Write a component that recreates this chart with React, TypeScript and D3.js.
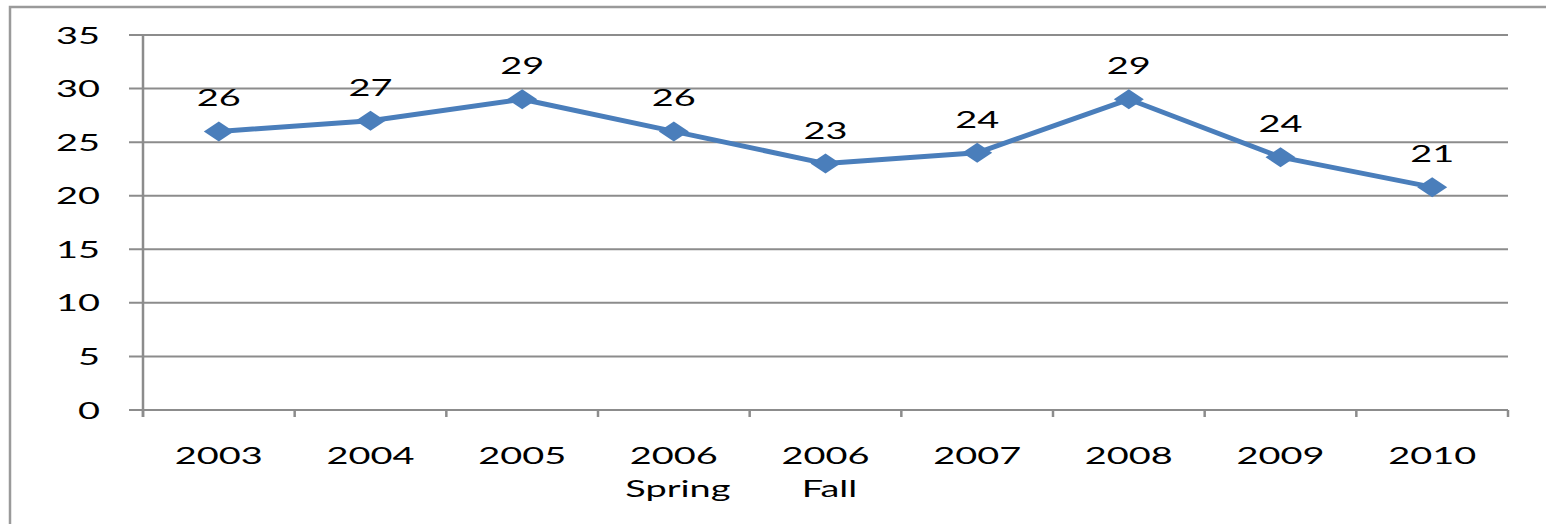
import * as d3 from 'd3'
import React, { useEffect, useRef } from 'react'

const categories = ['2003', '2004', '2005', '2006 Spring', '2006 Fall', '2007', '2008', '2009', '2010']
const values = [26, 27, 29, 26, 23, 24, 29, 23.6, 20.8]
const valueLabels = ['26', '27', '29', '26', '23', '24', '29', '24', '21']
const yTicks = [0, 5, 10, 15, 20, 25, 30, 35]

const App = () => {
  const svgRef = useRef<any>(null)

  useEffect(() => {
    if (!svgRef.current) return
    const svg = d3.select(svgRef.current)
    svg.selectAll('*').remove()

    const width = 1546
    const height = 524
    const left = 143
    const right = 1508
    const top = 35
    const bottom = 410
    const stretch = 1.58
    const font = 'Lato, "Open Sans", sans-serif'
    const fontSize = 24
    const grey = '#8c8c8c'

    svg.attr('width', width).attr('height', height)

    // outer chart frame, only left and top edges are in view
    svg.append('path')
      .attr('d', `M 10 ${height} L 10 7 L ${width} 7`)
      .attr('fill', 'none')
      .attr('stroke', '#9a9a9a')
      .attr('stroke-width', 2.5)

    const x = d3.scaleBand().domain(categories).range([left, right])
    const y = d3.scaleLinear().domain([0, 35]).range([bottom, top])

    // gridlines + y tick labels
    yTicks.forEach((t) => {
      svg.append('line')
        .attr('x1', left - 14).attr('x2', right)
        .attr('y1', y(t)).attr('y2', y(t))
        .attr('stroke', grey).attr('stroke-width', 2)
      svg.append('text')
        .attr('transform', `translate(100, ${y(t) + 8.5}) scale(${stretch}, 1)`)
        .attr('text-anchor', 'end')
        .attr('font-family', font)
        .attr('font-size', fontSize)
        .attr('fill', 'black')
        .text(t)
    })

    // y axis line
    svg.append('line')
      .attr('x1', left).attr('x2', left)
      .attr('y1', top).attr('y2', bottom + 7)
      .attr('stroke', grey).attr('stroke-width', 2.5)

    // category ticks
    const edges = categories.map((c) => x(c) as number).concat([right])
    edges.forEach((e) => {
      svg.append('line')
        .attr('x1', e).attr('x2', e)
        .attr('y1', bottom).attr('y2', bottom + 7)
        .attr('stroke', grey).attr('stroke-width', 2.5)
    })

    // category labels
    categories.forEach((c) => {
      const cx = (x(c) as number) + x.bandwidth() / 2
      const parts = c.split(' ')
      parts.forEach((p, i) => {
        svg.append('text')
          .attr('transform', `translate(${cx + (i > 0 ? 4 : 0)}, ${464 + i * 33}) scale(${stretch}, 1)`)
          .attr('text-anchor', 'middle')
          .attr('font-family', font)
          .attr('font-size', fontSize)
          .attr('fill', 'black')
          .text(p)
      })
    })

    const px = (i: number) => (x(categories[i]) as number) + x.bandwidth() / 2

    const line = d3.line<number>()
      .x((d, i) => px(i))
      .y((d) => y(d))

    svg.append('path')
      .datum(values)
      .attr('d', line)
      .attr('fill', 'none')
      .attr('stroke', '#4a7ebb')
      .attr('stroke-width', 5)
      .attr('stroke-linejoin', 'round')

    // diamond markers
    svg.selectAll('.marker')
      .data(values)
      .enter()
      .append('path')
      .attr('class', 'marker')
      .attr('d', 'M -15 0 L 0 -10 L 15 0 L 0 10 Z')
      .attr('transform', (d, i) => `translate(${px(i)}, ${y(d)})`)
      .attr('fill', '#4a7ebb')

    // value labels
    svg.selectAll('.vlabel')
      .data(values)
      .enter()
      .append('text')
      .attr('class', 'vlabel')
      .attr('transform', (d, i) => `translate(${px(i)}, ${y(d) - 25}) scale(${stretch}, 1)`)
      .attr('text-anchor', 'middle')
      .attr('font-family', font)
      .attr('font-size', fontSize)
      .attr('fill', 'black')
      .text((d, i) => valueLabels[i])
  }, [])

  return (
    <div style={{ position: 'absolute', left: 0, top: 0 }}>
      <svg ref={svgRef} style={{ display: 'block' }}></svg>
    </div>
  )
}

export default App
